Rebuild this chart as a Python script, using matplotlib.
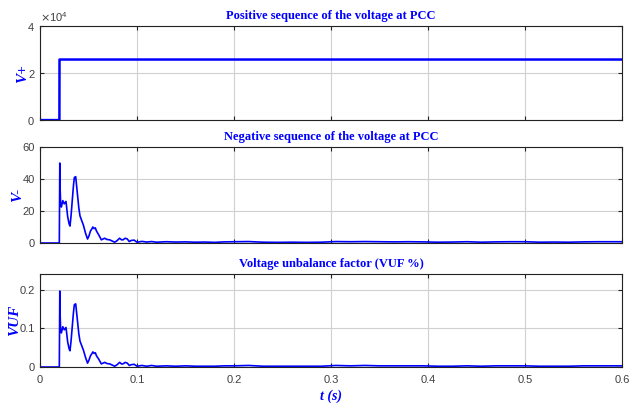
import matplotlib.pyplot as plt
from matplotlib.ticker import ScalarFormatter, FuncFormatter

# ---- data ----
t_pos = [0.0, 0.0200, 0.0201, 0.6]
v_pos = [0.0, 0.0, 25800.0, 25800.0]

t_neg = [0.0, 0.0199, 0.0204, 0.0208, 0.0213, 0.0220, 0.0235, 0.0250, 0.0268,
         0.0285, 0.0300, 0.0309, 0.0320, 0.0333, 0.0345, 0.0354, 0.0368,
         0.0385, 0.0400, 0.0412, 0.0430, 0.0447, 0.0470, 0.0490, 0.0505,
         0.0520, 0.0531, 0.0545, 0.0558, 0.0570, 0.0582, 0.0606, 0.0632,
         0.0650, 0.0667, 0.0690, 0.0718, 0.0745, 0.0770, 0.0795, 0.0820,
         0.0840, 0.0855, 0.0878, 0.0900, 0.0920, 0.0940, 0.0970, 0.1000,
         0.1050, 0.1100, 0.1150, 0.1200, 0.1300, 0.1400, 0.1500, 0.1600,
         0.1700, 0.1800, 0.1900, 0.2000, 0.2150, 0.2300, 0.2450, 0.2600,
         0.2750, 0.2900, 0.3050, 0.3200, 0.3350, 0.3500, 0.3650, 0.3800,
         0.3950, 0.4100, 0.4250, 0.4400, 0.4550, 0.4700, 0.4850, 0.5000,
         0.5150, 0.5300, 0.5450, 0.5600, 0.5750, 0.5900, 0.6000]
v_neg = [0.0, 0.0, 50.0, 33.0, 24.0, 22.5, 26.5, 24.5, 26.0,
         16.5, 12.0, 10.6, 17.0, 27.0, 36.0, 41.0, 41.5,
         31.0, 22.0, 17.0, 14.0, 11.2, 6.0, 2.5, 4.5,
         7.5, 8.5, 10.0, 9.0, 9.5, 7.5, 5.0, 2.0,
         2.5, 3.0, 2.2, 2.0, 1.2, 0.5, 1.5, 3.0,
         2.0, 2.0, 3.0, 2.5, 0.9, 1.6, 1.8, 0.5,
         1.0, 0.6, 0.9, 0.5, 0.8, 0.6, 0.7, 0.5,
         0.6, 0.4, 0.7, 0.8, 0.9, 0.5, 0.4, 0.5,
         0.4, 0.5, 0.9, 0.8, 0.9, 0.8, 0.7, 0.8,
         0.7, 0.5, 0.6, 0.8, 0.5, 0.7, 0.8, 0.8,
         0.5, 0.6, 0.5, 0.7, 0.8, 0.8, 0.8]

t_vuf = t_neg
vuf = [0.0, 0.0, 0.196, 0.130, 0.094, 0.088, 0.104, 0.096, 0.102,
       0.065, 0.047, 0.042, 0.067, 0.106, 0.141, 0.161, 0.163,
       0.122, 0.086, 0.067, 0.055, 0.044, 0.024, 0.010, 0.018,
       0.029, 0.033, 0.039, 0.035, 0.037, 0.029, 0.020, 0.008,
       0.010, 0.012, 0.009, 0.008, 0.005, 0.002, 0.006, 0.012,
       0.008, 0.008, 0.012, 0.010, 0.004, 0.006, 0.007, 0.002,
       0.004, 0.002, 0.004, 0.002, 0.003, 0.002, 0.003, 0.002,
       0.002, 0.002, 0.003, 0.003, 0.004, 0.002, 0.002, 0.002,
       0.002, 0.002, 0.004, 0.003, 0.004, 0.003, 0.003, 0.003,
       0.003, 0.002, 0.002, 0.003, 0.002, 0.003, 0.003, 0.003,
       0.002, 0.002, 0.002, 0.003, 0.003, 0.003, 0.003]

x_ticks = [0, 0.1, 0.2, 0.3, 0.4, 0.5, 0.6]
titles = ['Positive sequence of the voltage at PCC',
          'Negative sequence of the voltage at PCC',
          'Voltage unbalance factor (VUF %)']
ylabels = ['V+', 'V-', 'VUF']
ylims = [(0, 40000), (0, 60), (0, 0.24)]
y_ticks = [[0, 20000, 40000], [0, 20, 40, 60], [0, 0.1, 0.2]]

BLUE = '#0000ff'
TICK_GRAY = '#404040'

fig = plt.figure(figsize=(6.3, 4.03), dpi=100)
boxes = [[0.0635, 0.702, 0.924, 0.233],
         [0.0635, 0.397, 0.924, 0.238],
         [0.0635, 0.0893, 0.924, 0.2307]]
axes = [fig.add_axes(b) for b in boxes]

axes[0].plot(t_pos, v_pos, color=BLUE, lw=1.8)
axes[1].plot(t_neg, v_neg, color=BLUE, lw=1.2)
axes[2].plot(t_vuf, vuf, color=BLUE, lw=1.2)

plain = FuncFormatter(lambda v, p: f'{v:g}')

for ax, title, yl, lim, yt in zip(axes, titles, ylabels, ylims, y_ticks):
    ax.set_xlim(0, 0.6)
    ax.set_ylim(*lim)
    ax.set_xticks(x_ticks)
    ax.set_yticks(yt)
    ax.xaxis.set_major_formatter(plain)
    ax.yaxis.set_major_formatter(plain)
    ax.grid(True, color='#d0d0d0', lw=0.8)
    ax.set_axisbelow(True)
    ax.tick_params(direction='in', length=3, top=True, right=True,
                   labelsize=8, colors='#222222', labelcolor=TICK_GRAY)
    ax.tick_params(axis='x', pad=6)
    for s in ax.spines.values():
        s.set_color('#222222')
        s.set_linewidth(0.8)
    ax.set_title(title, fontsize=9, fontweight='bold', color=BLUE,
                 family='Liberation Serif', pad=5)
    ax.set_ylabel(yl, fontsize=11, fontweight='bold', fontstyle='italic',
                  color=BLUE, family='Liberation Serif', labelpad=-1)

for ax in axes:
    for lab in ax.get_xticklabels() + ax.get_yticklabels():
        lab.set_family('Liberation Sans')

axes[0].tick_params(labelbottom=False)
axes[1].tick_params(labelbottom=False)

fmt = ScalarFormatter(useMathText=True)
fmt.set_powerlimits((0, 0))
axes[0].yaxis.set_major_formatter(fmt)
off = axes[0].yaxis.get_offset_text()
off.set_fontsize(8)
off.set_color(TICK_GRAY)
off.set_family('Liberation Sans')

axes[2].set_xlabel('t (s)', fontsize=10, fontweight='bold', fontstyle='italic',
                   color=BLUE, family='Liberation Serif', labelpad=3)

fig.savefig('out.png', dpi=100)
